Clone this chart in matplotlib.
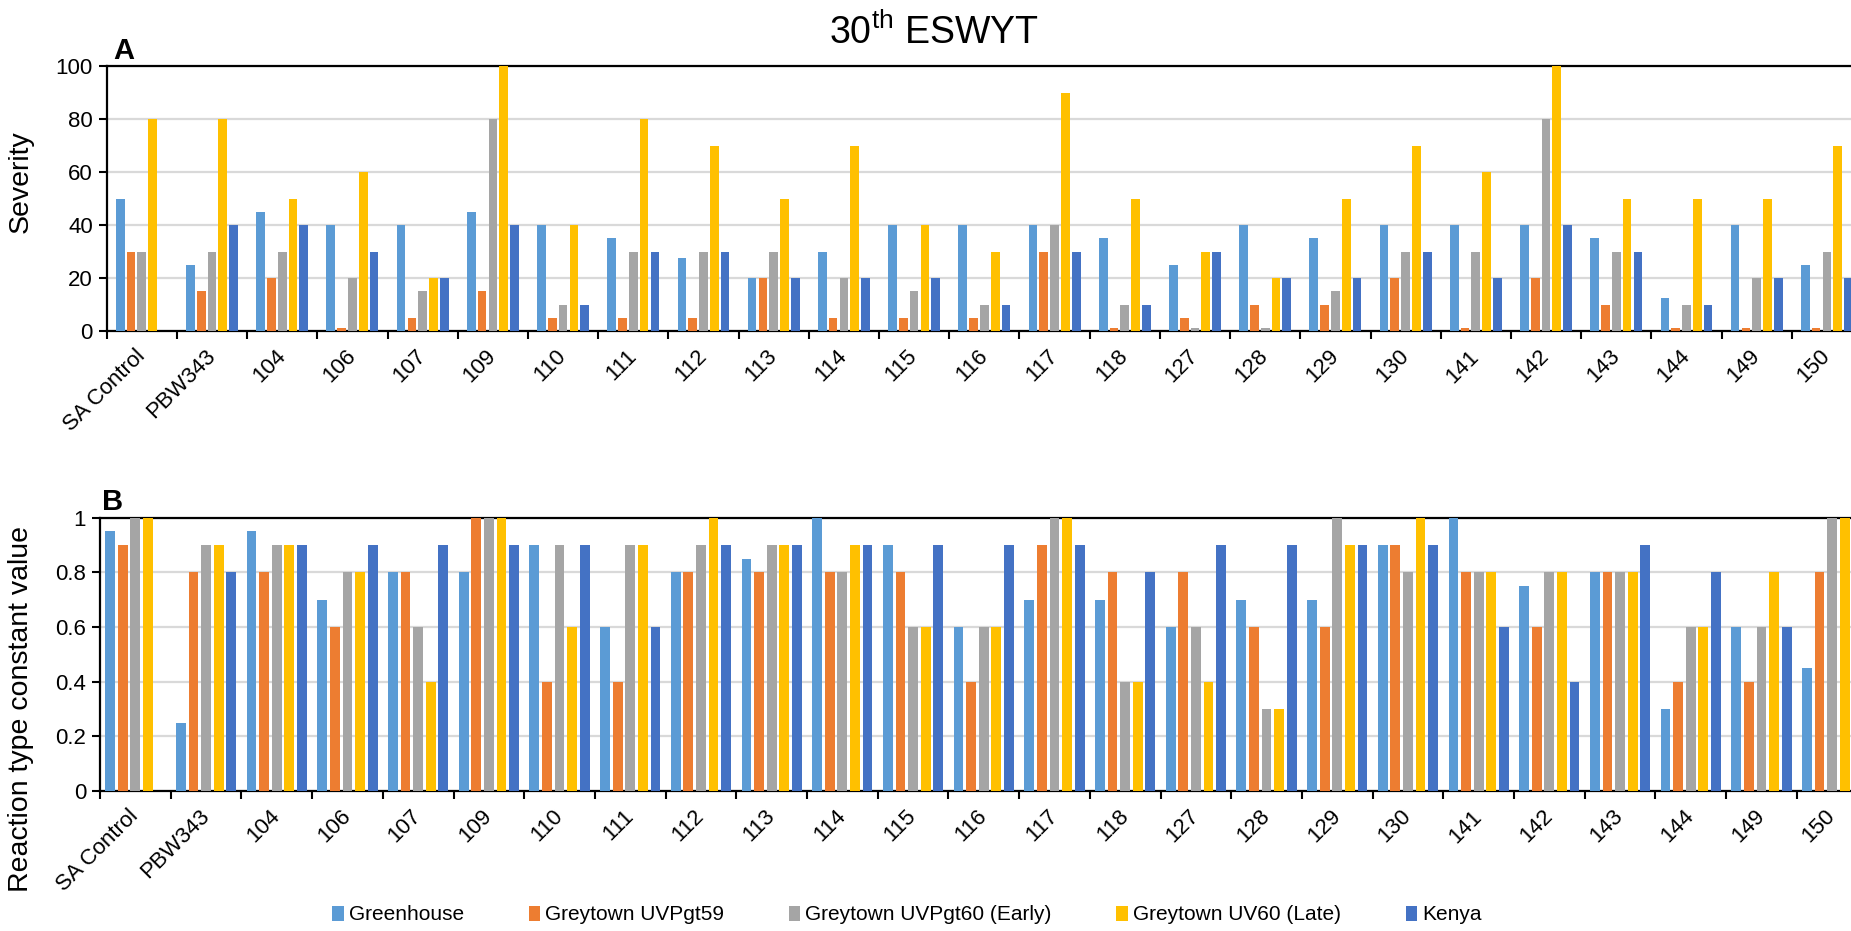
import numpy as np
import matplotlib
matplotlib.use("Agg")
import matplotlib.pyplot as plt
from matplotlib.patches import Patch
from matplotlib.ticker import FixedLocator

plt.rcParams['font.family'] = ['Liberation Sans', 'DejaVu Sans']
plt.rcParams['mathtext.fontset'] = 'custom'
plt.rcParams['mathtext.rm'] = 'Liberation Sans'

categories = ['SA Control', 'PBW343', '104', '106', '107', '109', '110', '111', '112',
              '113', '114', '115', '116', '117', '118', '127', '128', '129', '130',
              '141', '142', '143', '144', '149', '150']

series_names = ['Greenhouse', 'Greytown UVPgt59', 'Greytown UVPgt60 (Early)',
                'Greytown UV60 (Late)', 'Kenya']
colors = ['#5B9BD5', '#ED7D31', '#A5A5A5', '#FFC000', '#4472C4']

# Panel A: Severity
sev_greenhouse = [50, 25, 45, 40, 40, 45, 40, 35, 27.5, 20, 30, 40, 40, 40, 35, 25, 40, 35, 40, 40, 40, 35, 12.5, 40, 25]
sev_gt59       = [30, 15, 20, 1, 5, 15, 5, 5, 5, 20, 5, 5, 5, 30, 1, 5, 10, 10, 20, 1, 20, 10, 1, 1, 1]
sev_gt60       = [30, 30, 30, 20, 15, 80, 10, 30, 30, 30, 20, 15, 10, 40, 10, 1, 1, 15, 30, 30, 80, 30, 10, 20, 30]
sev_uv60       = [80, 80, 50, 60, 20, 100, 40, 80, 70, 50, 70, 40, 30, 90, 50, 30, 20, 50, 70, 60, 100, 50, 50, 50, 70]
sev_kenya      = [0, 40, 40, 30, 20, 40, 10, 30, 30, 20, 20, 20, 10, 30, 10, 30, 20, 20, 30, 20, 40, 30, 10, 20, 20]

# Panel B: Reaction type constant value
rt_greenhouse = [0.95, 0.25, 0.95, 0.7, 0.8, 0.8, 0.9, 0.6, 0.8, 0.85, 1.0, 0.9, 0.6, 0.7, 0.7, 0.6, 0.7, 0.7, 0.9, 1.0, 0.75, 0.8, 0.3, 0.6, 0.45]
rt_gt59       = [0.9, 0.8, 0.8, 0.6, 0.8, 1.0, 0.4, 0.4, 0.8, 0.8, 0.8, 0.8, 0.4, 0.9, 0.8, 0.8, 0.6, 0.6, 0.9, 0.8, 0.6, 0.8, 0.4, 0.4, 0.8]
rt_gt60       = [1.0, 0.9, 0.9, 0.8, 0.6, 1.0, 0.9, 0.9, 0.9, 0.9, 0.8, 0.6, 0.6, 1.0, 0.4, 0.6, 0.3, 1.0, 0.8, 0.8, 0.8, 0.8, 0.6, 0.6, 1.0]
rt_uv60       = [1.0, 0.9, 0.9, 0.8, 0.4, 1.0, 0.6, 0.9, 1.0, 0.9, 0.9, 0.6, 0.6, 1.0, 0.4, 0.4, 0.3, 0.9, 1.0, 0.8, 0.8, 0.8, 0.6, 0.8, 1.0]
rt_kenya      = [0, 0.8, 0.9, 0.9, 0.9, 0.9, 0.9, 0.6, 0.9, 0.9, 0.9, 0.9, 0.9, 0.9, 0.8, 0.9, 0.9, 0.9, 0.9, 0.6, 0.4, 0.9, 0.8, 0.6, np.nan]

sev_ticks = [0, 20, 40, 60, 80, 100]
rt_ticks = [0, 0.2, 0.4, 0.6, 0.8, 1.0]
rt_tick_labels = ['0', '0.2', '0.4', '0.6', '0.8', '1']

W, H = 1851, 931
fig = plt.figure(figsize=(W / 100, H / 100), dpi=100)


def frac(x0, y_top, x1, y_bot):
    return [x0 / W, 1 - y_bot / H, (x1 - x0) / W, (y_bot - y_top) / H]


axA = fig.add_axes(frac(106.7, 66, 1862, 331))
axB = fig.add_axes(frac(100, 517.7, 1867.5, 791))


def draw(ax, data, pitch, width, ymax, yticks, yticklabels, pad):
    x = np.arange(len(categories))
    for j, (vals, c, name) in enumerate(zip(data, colors, series_names)):
        ax.bar(x + (j - 2) * pitch, vals, width=width, color=c, label=name, zorder=3)
    ax.set_xlim(-0.5, len(categories) - 0.5)
    ax.set_ylim(0, ymax)
    ax.set_yticks(yticks)
    ax.set_yticklabels(yticklabels)
    ax.yaxis.grid(True, color='#D9D9D9', linewidth=1.6, zorder=0)
    ax.set_axisbelow(True)
    ax.set_xticks(x)
    ax.set_xticklabels(categories, rotation=45, ha='right', va='center',
                       rotation_mode='anchor')
    ax.xaxis.set_minor_locator(FixedLocator(np.arange(-0.5, len(categories), 1.0)))
    ax.tick_params(axis='x', which='major', length=0, pad=pad, labelsize=16)
    ax.tick_params(axis='x', which='minor', length=6, width=1.5, direction='out')
    ax.tick_params(axis='y', length=6, width=1.5, direction='out', labelsize=16, pad=4)
    for s in ['left', 'bottom', 'top']:
        ax.spines[s].set_linewidth(1.6)
        ax.spines[s].set_color('black')
    ax.spines['right'].set_visible(False)


draw(axA, [sev_greenhouse, sev_gt59, sev_gt60, sev_uv60, sev_kenya],
     0.1538, 0.124, 100, sev_ticks, [str(t) for t in sev_ticks], 16)
draw(axB, [rt_greenhouse, rt_gt59, rt_gt60, rt_uv60, rt_kenya],
     0.178, 0.139, 1.0, rt_ticks, rt_tick_labels, 16)

fig.text(21 / W, 1 - 182 / H, 'Severity', rotation=90, ha='center', va='center', fontsize=20.5)
fig.text(21 / W, 1 - 709 / H, 'Reaction type constant value', rotation=90,
         ha='center', va='center', fontsize=20.5)

fig.text(124 / W, 1 - 51 / H, 'A', ha='center', va='center', fontsize=21, fontweight='bold')
fig.text(113 / W, 1 - 502 / H, 'B', ha='center', va='center', fontsize=21, fontweight='bold')

fig.text(934 / W, 1 - 33 / H, r'30$^{\mathrm{th}}$ ESWYT', ha='center', va='center', fontsize=27)

handles = [Patch(facecolor=c, edgecolor='none') for c in colors]
fig.legend(handles, series_names, loc='center', bbox_to_anchor=(907 / W, 1 - 915 / H),
           ncol=5, frameon=False, fontsize=15, handlelength=0.55, handleheight=0.7,
           handletextpad=0.25, columnspacing=3.1)

fig.savefig('out.png', dpi=100)
